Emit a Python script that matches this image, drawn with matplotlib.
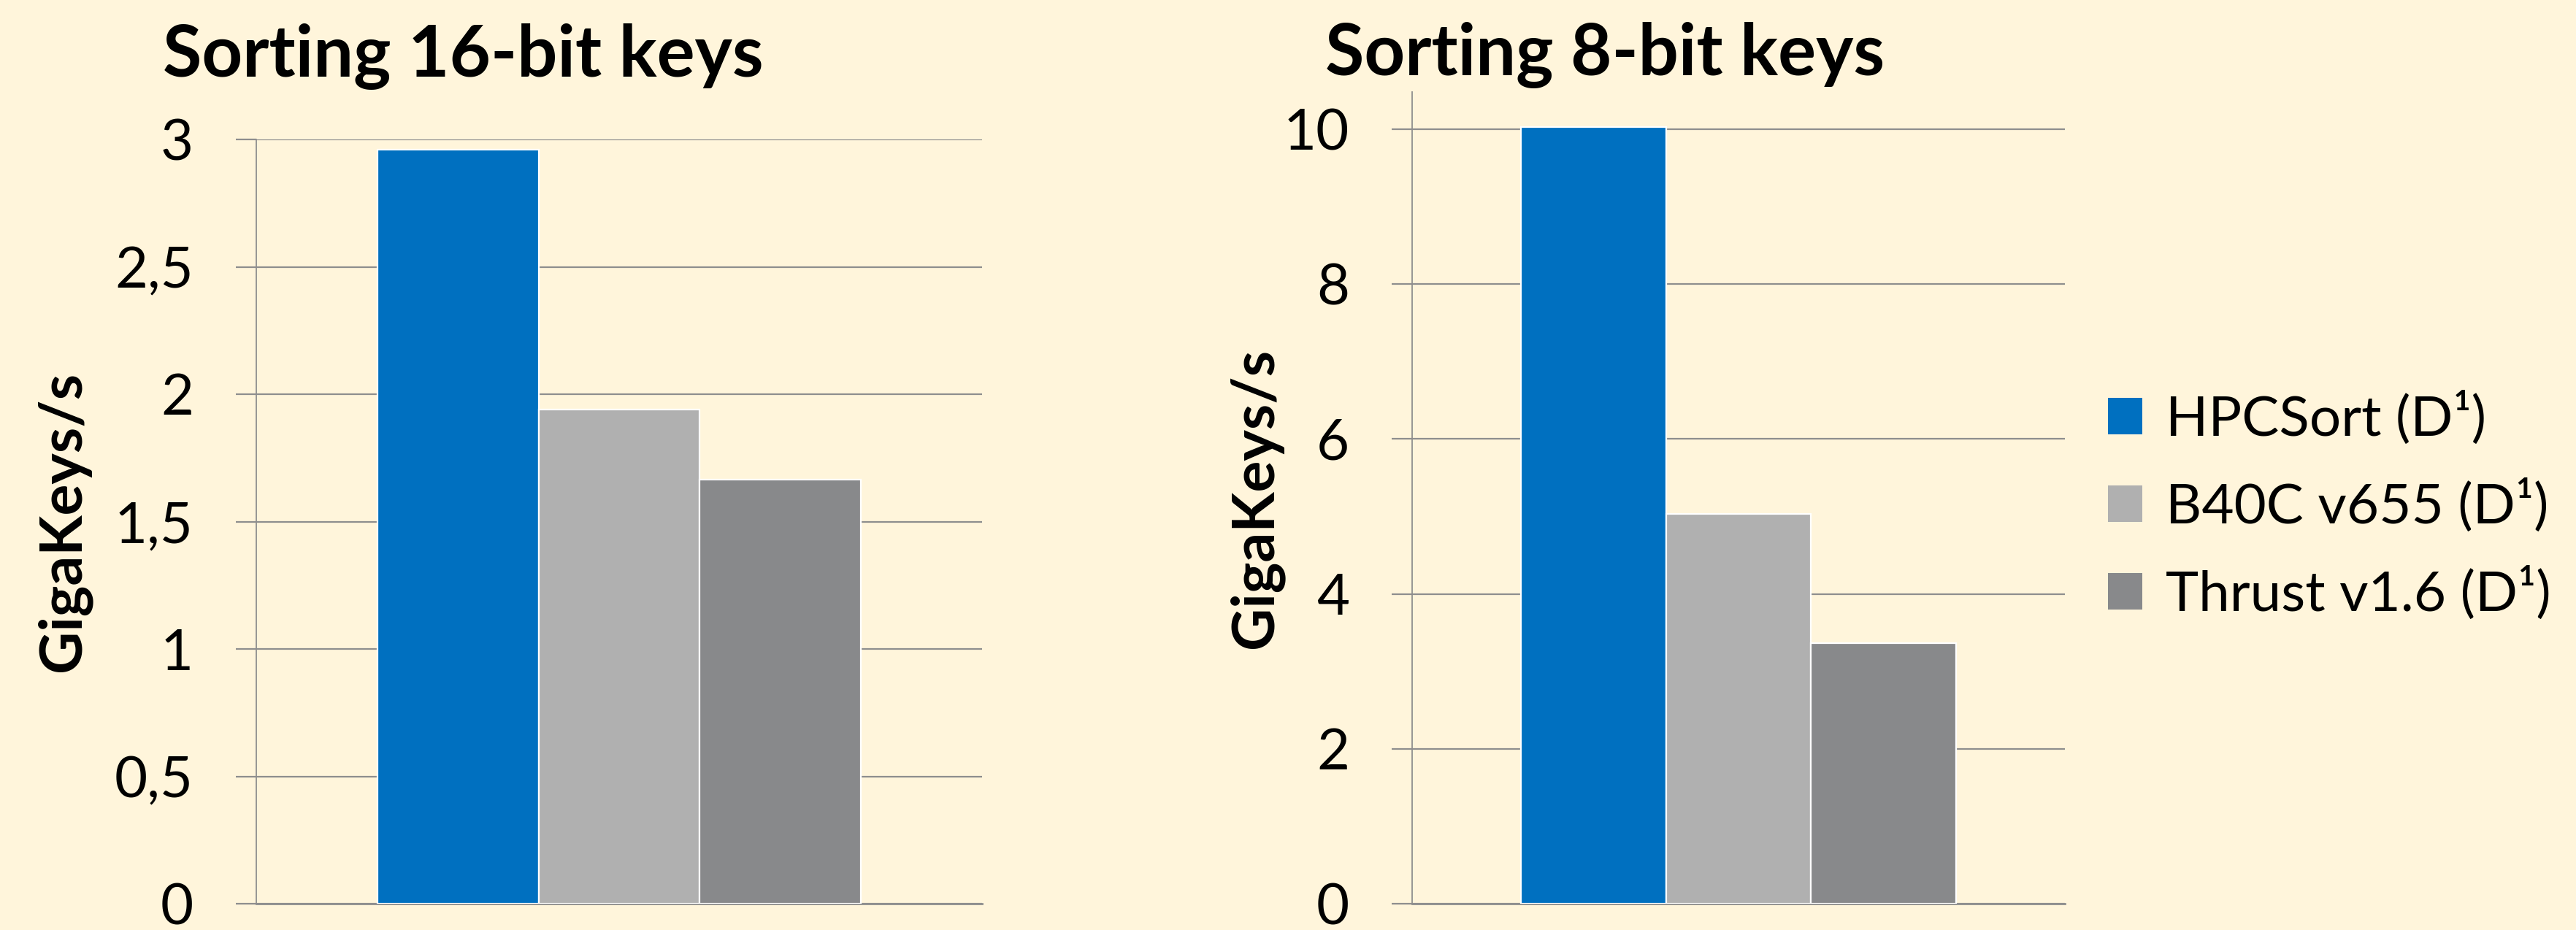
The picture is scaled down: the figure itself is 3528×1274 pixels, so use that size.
import matplotlib
matplotlib.use("Agg")
import matplotlib.pyplot as plt
from matplotlib.patches import Patch

# ---- data ----
series = ["HPCSort (D¹)", "B40C v655 (D¹)", "Thrust v1.6 (D¹)"]
colors = ["#0070C0", "#B0B0B0", "#88898B"]
vals_16bit = [2.96, 1.94, 1.665]
vals_8bit = [10.03, 5.03, 3.36]
titles = ["Sorting 16-bit keys", "Sorting 8-bit keys"]
ylabel = "GigaKeys/s"
ticks_16 = [0, 0.5, 1, 1.5, 2, 2.5, 3]
ticks_8 = [0, 2, 4, 6, 8, 10]

BG = "#FFF5DB"
GRID = "#8E8E8E"
FONT = "Lato"

plt.rcParams["font.family"] = [FONT, "DejaVu Sans"]

W, H = 3528, 1274
DPI = 100
fig = plt.figure(figsize=(W / DPI, H / DPI), dpi=DPI, facecolor=BG)


def px_axes(x0, x1, ytop, ybot):
    return [x0 / W, 1 - ybot / H, (x1 - x0) / W, (ybot - ytop) / H]


ax1 = fig.add_axes(px_axes(351, 1345, 191, 1238))
ax2 = fig.add_axes(px_axes(1934, 2828, 126, 1238))

bw = 0.222


def style(ax, vals, ticks, ylim, fmt, label_x):
    ax.set_facecolor(BG)
    for i, (v, c) in enumerate(zip(vals, colors)):
        ax.bar((i - 1) * bw, v, width=bw, color=c, edgecolor="white",
               linewidth=1.6, zorder=3)
    ax.set_xlim(-0.5, 0.5)
    ax.set_ylim(*ylim)
    ax.set_yticks(ticks)
    ax.set_yticklabels([fmt(t) for t in ticks])
    ax.set_xticks([])
    ax.yaxis.grid(True, color=GRID, linewidth=1.6, zorder=0)
    ax.set_axisbelow(True)
    for s in ["top", "right"]:
        ax.spines[s].set_visible(False)
    ax.spines["left"].set_color(GRID)
    ax.spines["left"].set_linewidth(1.3)
    ax.spines["bottom"].set_color(GRID)
    ax.spines["bottom"].set_linewidth(2.0)
    ax.tick_params(axis="y", length=20, width=1.6, color=GRID, pad=42,
                   labelsize=56, labelcolor="black")
    ax.set_ylabel(ylabel, fontsize=58, fontweight="bold")
    ax.yaxis.set_label_coords(label_x, 0.5)


def comma(t):
    s = ("%g" % t)
    return s.replace(".", ",")


style(ax1, vals_16bit, ticks_16, (0, 3), comma, -0.227)
style(ax2, vals_8bit, ticks_8, (0, 10.48), comma, -0.197)

fig.text(223 / W, 1 - 105 / H, titles[0], fontsize=70, fontweight="bold",
         ha="left", va="baseline")
fig.text(1815 / W, 1 - 103 / H, titles[1], fontsize=70, fontweight="bold",
         ha="left", va="baseline")

handles = [Patch(facecolor=c, edgecolor="none") for c in colors]
fig.legend(handles, series, loc="center left",
           bbox_to_anchor=(2887 / W, 1 - 693 / H), frameon=False,
           fontsize=55, handlelength=0.62, handleheight=0.62,
           handletextpad=0.42, labelspacing=0.6, borderpad=0,
           borderaxespad=0)

fig.savefig("out.png", dpi=DPI, facecolor=BG)
